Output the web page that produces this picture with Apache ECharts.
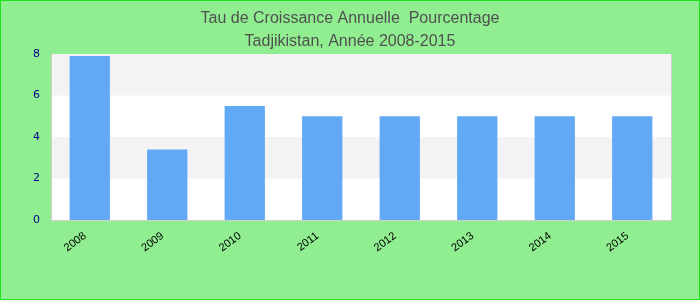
<!DOCTYPE html>
<html><head><meta charset="utf-8">
<script src="https://cdn.jsdelivr.net/npm/echarts@6/dist/echarts.min.js"></script>
<style>html,body{margin:0;padding:0;background:#90ee90;}
#c{width:698px;height:298px;border:1px solid #1ee01e;}</style>
</head><body><div id="c"></div>
<script>
const titleLines = ['Tau de Croissance Annuelle  Pourcentage', 'Tadjikistan, Année 2008-2015'];
const years = ['2008','2009','2010','2011','2012','2013','2014','2015'];
const values = [7.9, 3.4, 5.5, 5.0, 5.0, 5.0, 5.0, 5.0];
const yTicks = {min: 0, max: 8, interval: 2};
const chart = echarts.init(document.getElementById('c'), null, {renderer:'canvas'});
const border = {show: true, lineStyle: {color: '#d0d0d0', width: 1}};
chart.setOption({
  backgroundColor: '#90ee90',
  animation: false,
  title: {
    text: titleLines.join('\n'), left: 'center', top: 1,
    textStyle: {fontFamily: 'Liberation Sans, Arial', fontSize: 16, fontWeight: 'normal', color: '#505050', lineHeight: 23}
  },
  grid: {left: 50, right: 28, top: 53, bottom: 79, backgroundColor: '#fff', show: true, borderWidth: 0},
  xAxis: [{
    type: 'category', data: years,
    axisLine: border, axisTick: {show: false},
    axisLabel: {rotate: 37, margin: 11, fontSize: 11, color: '#000', fontFamily: 'Liberation Sans, Arial', padding: [0, 6, 0, 0]}
  }, {
    type: 'category', data: years, position: 'top',
    axisLine: border, axisTick: {show: false}, axisLabel: {show: false}
  }],
  yAxis: [{
    type: 'value', min: yTicks.min, max: yTicks.max, interval: yTicks.interval,
    axisLine: border, axisTick: {show: false},
    splitLine: {show: false},
    splitArea: {show: true, areaStyle: {color: ['#ffffff', '#f3f3f3']}},
    axisLabel: {fontSize: 11, color: '#00008b', margin: 11, fontFamily: 'DejaVu Sans, Verdana'}
  }, {
    type: 'value', min: yTicks.min, max: yTicks.max, interval: yTicks.interval, position: 'right',
    axisLine: border, axisTick: {show: false}, splitLine: {show: false}, axisLabel: {show: false}
  }],
  series: [{type: 'bar', data: values, barWidth: '52%', itemStyle: {color: '#62a9f5'}}]
});
</script></body></html>
